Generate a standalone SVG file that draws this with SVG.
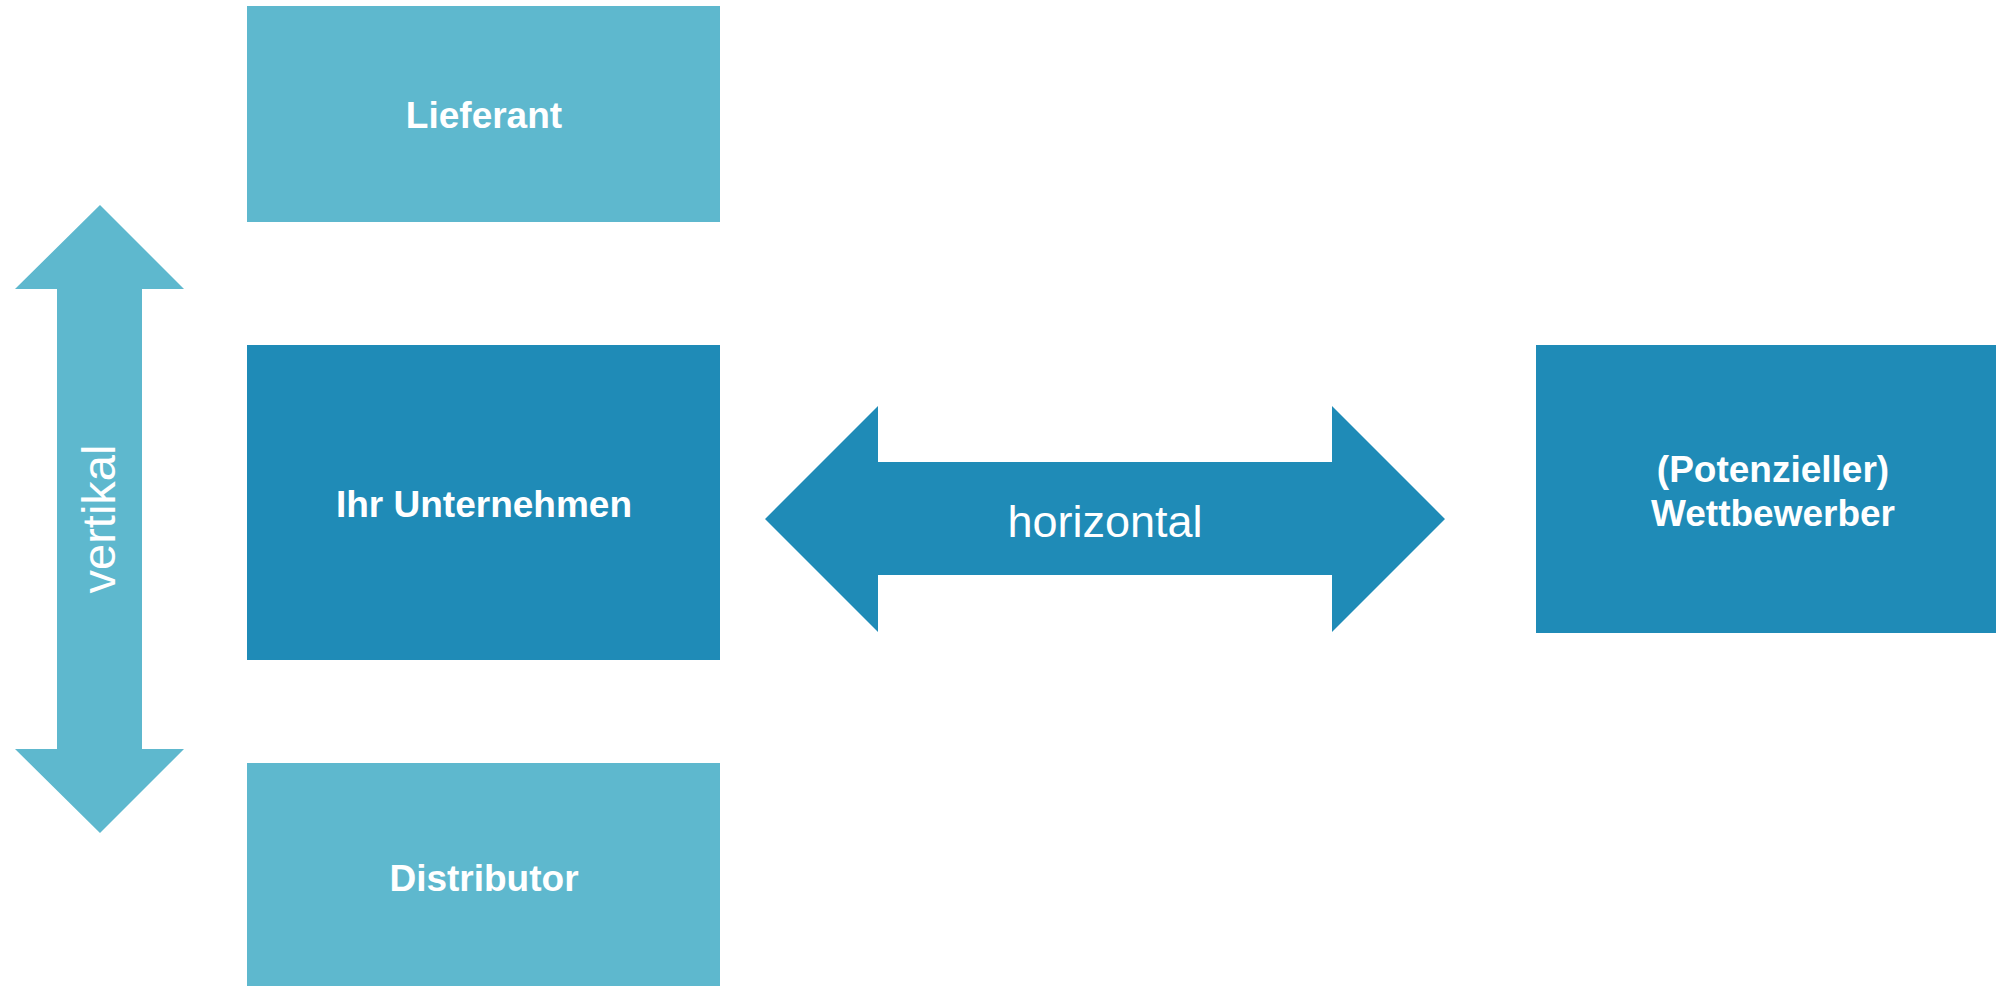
<svg xmlns="http://www.w3.org/2000/svg" width="1996" height="986" viewBox="0 0 1996 986">
<style>
.light{fill:#5eb8ce}
.dark{fill:#1f8bb7}
.lbl{font-family:"Liberation Sans",Arial,sans-serif;font-weight:bold;font-size:37px;fill:#fff;text-anchor:middle}
.arr{font-family:"Liberation Sans",Arial,sans-serif;font-size:45px;fill:#fff;text-anchor:middle}
</style>
<rect width="1996" height="986" fill="#fff"/>
<g id="connectors">
<g id="vertical-arrow">
<polygon class="light" points="100,205 184,289 142,289 142,749 184,749 100,833 15,749 57,749 57,289 15,289"/>
<text class="arr" style="font-size:47px" transform="translate(115,519) rotate(-90)">vertikal</text>
</g>
<g id="horizontal-arrow">
<polygon class="dark" points="765,519 878,406 878,462 1332,462 1332,406 1445,519 1332,632 1332,575 878,575 878,632"/>
<text class="arr" x="1105" y="537">horizontal</text>
</g>
</g>
<g id="lieferant">
<rect class="light" x="247" y="6" width="473" height="216"/>
<text class="lbl" x="484" y="128">Lieferant</text>
</g>
<g id="unternehmen">
<rect class="dark" x="247" y="345" width="473" height="315"/>
<text class="lbl" x="484" y="517">Ihr Unternehmen</text>
</g>
<g id="distributor">
<rect class="light" x="247" y="763" width="473" height="230"/>
<text class="lbl" x="484" y="891">Distributor</text>
</g>
<g id="wettbewerber">
<rect class="dark" x="1536" y="345" width="470" height="288"/>
<text class="lbl" x="1773" y="482">(Potenzieller)</text>
<text class="lbl" x="1773" y="526">Wettbewerber</text>
</g>
</svg>
